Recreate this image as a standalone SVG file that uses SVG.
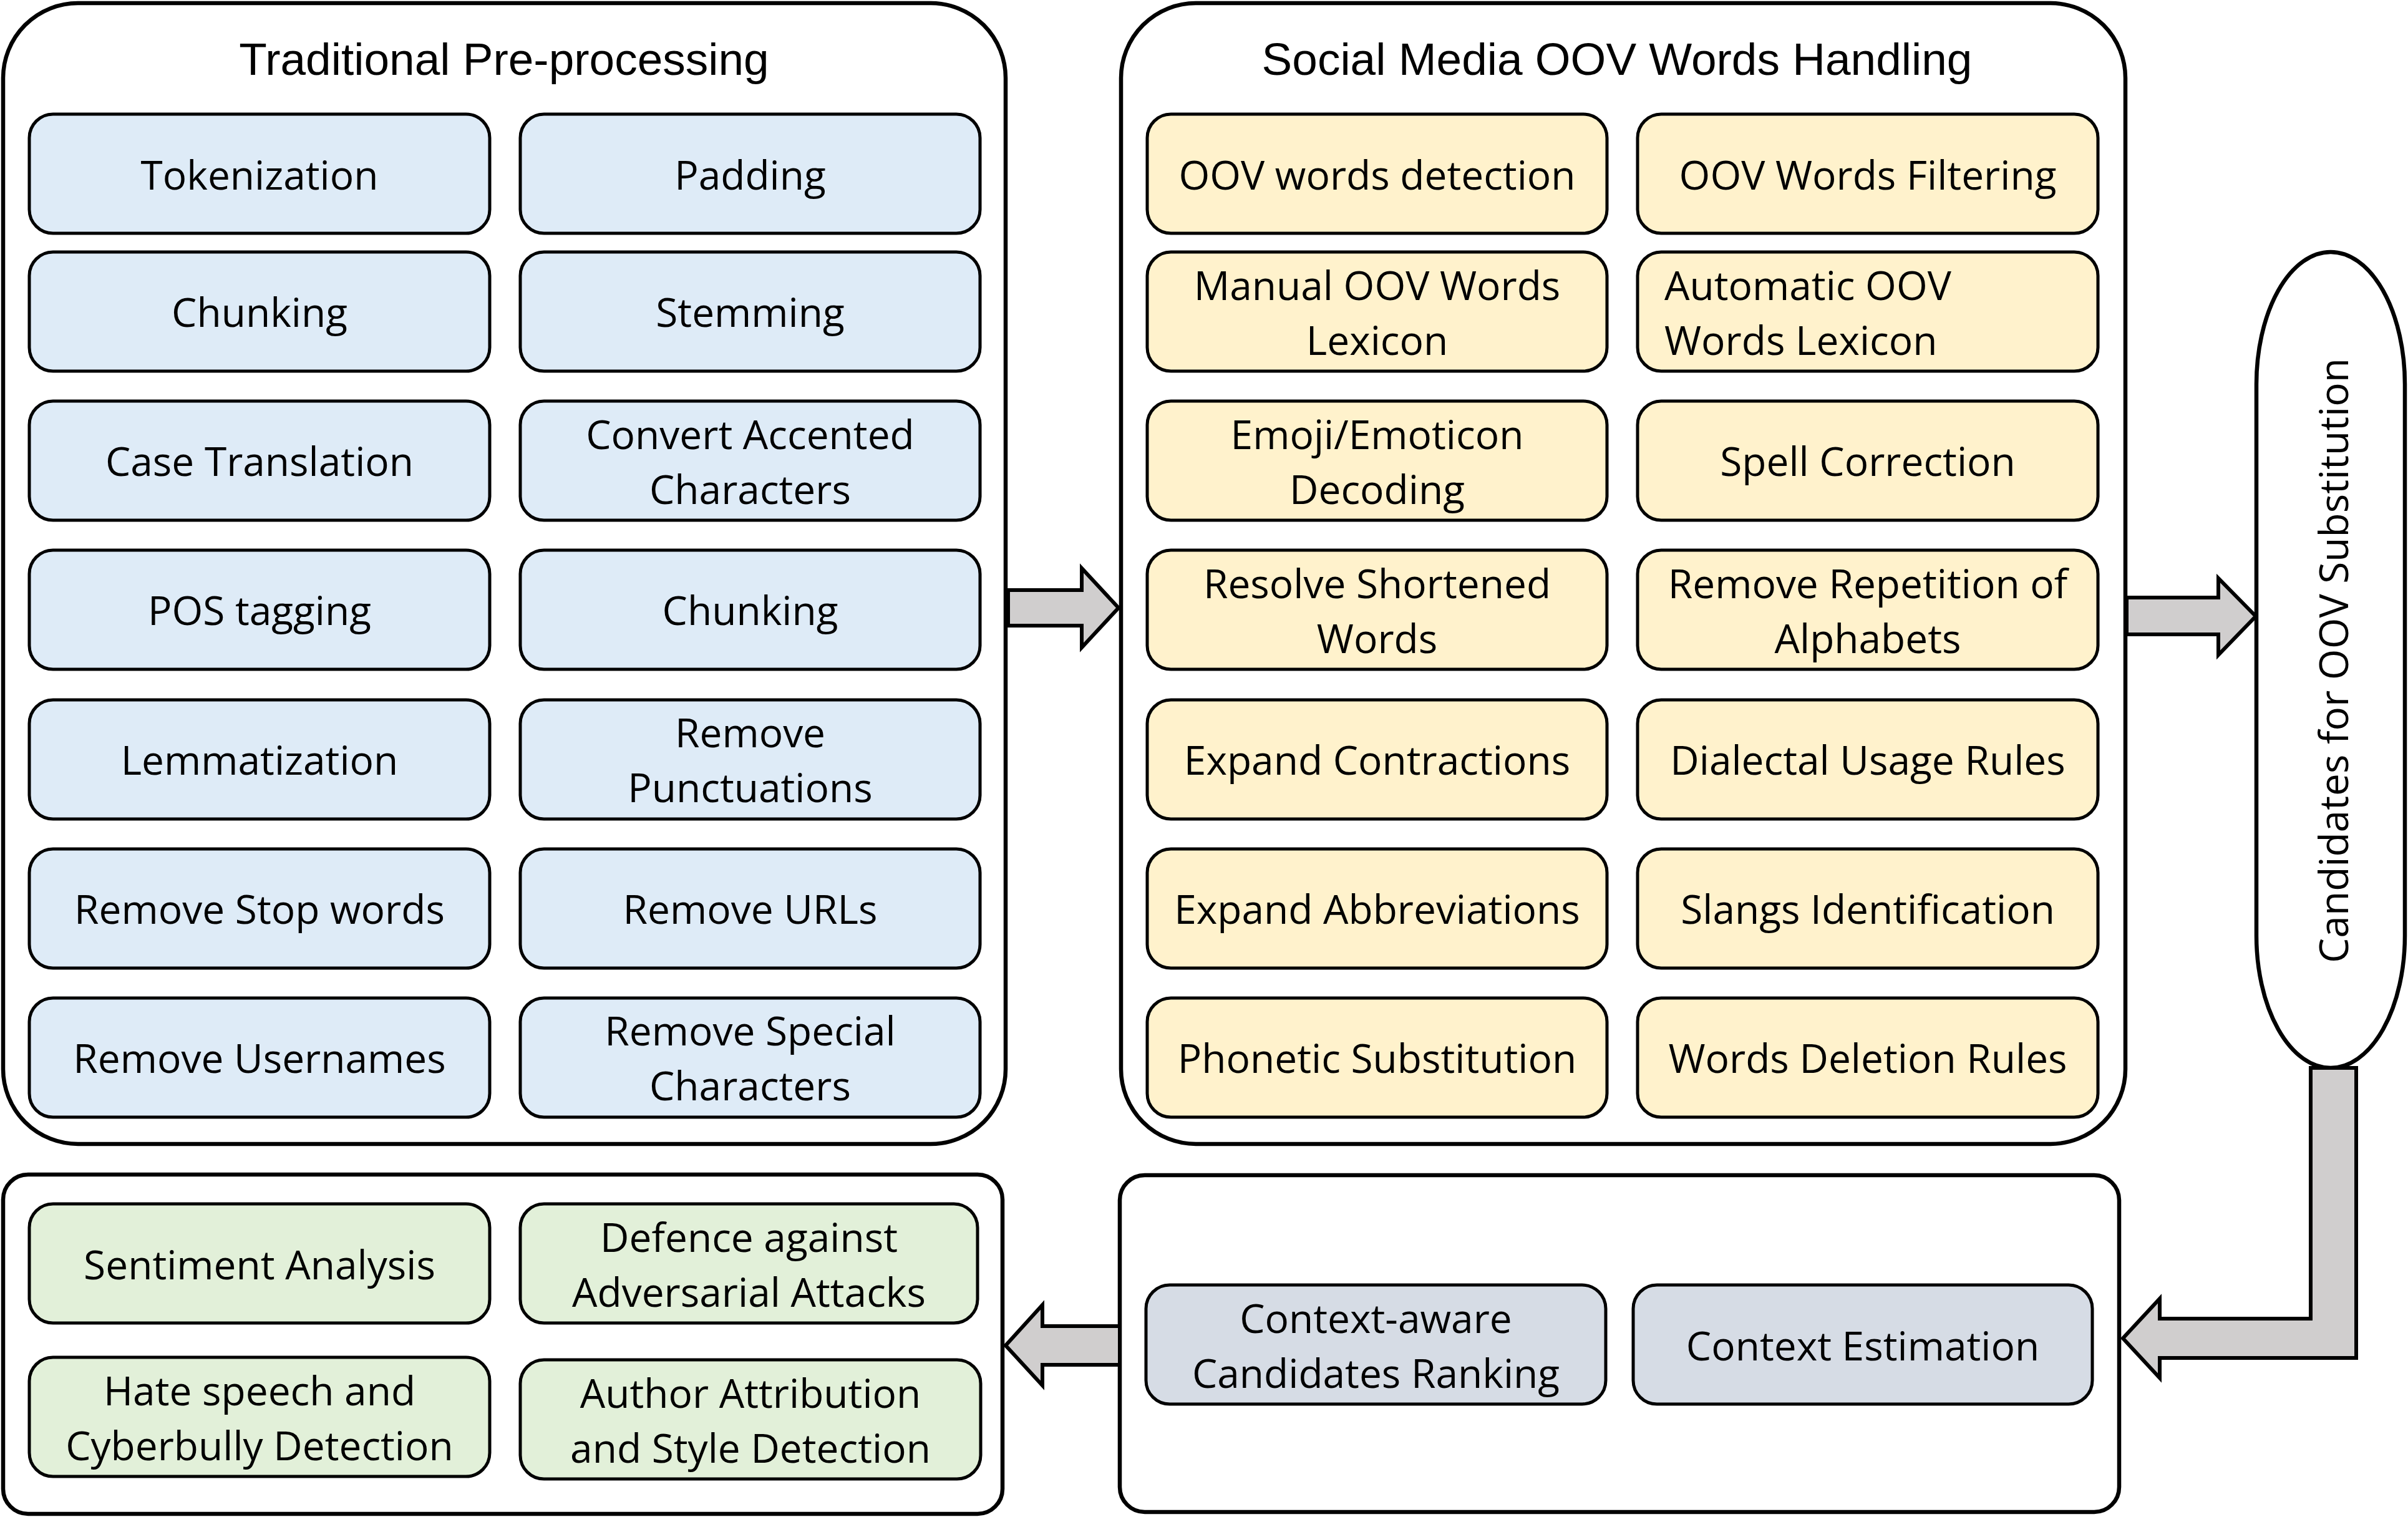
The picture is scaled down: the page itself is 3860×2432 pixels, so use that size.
<svg xmlns="http://www.w3.org/2000/svg" width="3860" height="2432" viewBox="0 0 3860 2432">
<defs>
<style>
.big{fill:#ffffff;stroke:#000;stroke-width:6.5}
.b{stroke:#000;stroke-width:5}
.blue{fill:#DEEBF7}
.yel{fill:#FFF2CC}
.grn{fill:#E2F0D9}
.gry{fill:#D6DCE5}
.t{font-family:"Open Sans","DejaVu Sans",sans-serif;font-size:64px;fill:#000;text-anchor:middle}
.ttl{font-family:"Liberation Sans",Arial,sans-serif;font-size:73px;fill:#000;text-anchor:middle}
.arr{fill:#D0CECE;stroke:#000;stroke-width:6;stroke-linejoin:miter}
</style>
</defs>
<rect width="3860" height="2432" fill="#fff"/>

<g id="traditional-preprocessing">
<rect class="big" x="5" y="5" width="1607" height="1829" rx="120" ry="120"/>
<text class="ttl" x="808" y="120">Traditional Pre-processing</text>
</g>
<g id="tokenization"><rect class="b blue" x="47" y="183" width="738" height="191" rx="38"/><text class="t" x="416" y="304">Tokenization</text></g>
<g id="padding"><rect class="b blue" x="834" y="183" width="737" height="191" rx="38"/><text class="t" x="1202.5" y="304">Padding</text></g>
<g id="chunking-1"><rect class="b blue" x="47" y="404" width="738" height="191" rx="38"/><text class="t" x="416" y="524">Chunking</text></g>
<g id="stemming"><rect class="b blue" x="834" y="404" width="737" height="191" rx="38"/><text class="t" x="1202.5" y="524">Stemming</text></g>
<g id="case-translation"><rect class="b blue" x="47" y="643" width="738" height="191" rx="38"/><text class="t" x="416" y="763">Case Translation</text></g>
<g id="convert-accented"><rect class="b blue" x="834" y="643" width="737" height="191" rx="38"/><text class="t" x="1202.5" y="720">Convert Accented</text><text class="t" x="1202.5" y="808">Characters</text></g>
<g id="pos-tagging"><rect class="b blue" x="47" y="882" width="738" height="191" rx="38"/><text class="t" x="416" y="1002">POS tagging</text></g>
<g id="chunking-2"><rect class="b blue" x="834" y="882" width="737" height="191" rx="38"/><text class="t" x="1202.5" y="1002">Chunking</text></g>
<g id="lemmatization"><rect class="b blue" x="47" y="1122" width="738" height="191" rx="38"/><text class="t" x="416" y="1242">Lemmatization</text></g>
<g id="remove-punctuations"><rect class="b blue" x="834" y="1122" width="737" height="191" rx="38"/><text class="t" x="1202.5" y="1198">Remove</text><text class="t" x="1202.5" y="1286">Punctuations</text></g>
<g id="remove-stop-words"><rect class="b blue" x="47" y="1361" width="738" height="191" rx="38"/><text class="t" x="416" y="1481">Remove Stop words</text></g>
<g id="remove-urls"><rect class="b blue" x="834" y="1361" width="737" height="191" rx="38"/><text class="t" x="1202.5" y="1481">Remove URLs</text></g>
<g id="remove-usernames"><rect class="b blue" x="47" y="1600" width="738" height="191" rx="38"/><text class="t" x="416" y="1720">Remove Usernames</text></g>
<g id="remove-special"><rect class="b blue" x="834" y="1600" width="737" height="191" rx="38"/><text class="t" x="1202.5" y="1676">Remove Special</text><text class="t" x="1202.5" y="1764">Characters</text></g>

<g id="oov-handling">
<rect class="big" x="1797" y="5" width="1610" height="1829" rx="120" ry="120"/>
<text class="ttl" x="2592" y="120">Social Media OOV Words Handling</text>
</g>
<g id="oov-detection"><rect class="b yel" x="1839" y="183" width="737" height="191" rx="38"/><text class="t" x="2207.5" y="304">OOV words detection</text></g>
<g id="oov-filtering"><rect class="b yel" x="2625" y="183" width="738" height="191" rx="38"/><text class="t" x="2994" y="304">OOV Words Filtering</text></g>
<g id="manual-lexicon"><rect class="b yel" x="1839" y="404" width="737" height="191" rx="38"/><text class="t" x="2207.5" y="481">Manual OOV Words</text><text class="t" x="2207.5" y="569">Lexicon</text></g>
<g id="automatic-lexicon"><rect class="b yel" x="2625" y="404" width="738" height="191" rx="38"/><text class="t" x="2668" y="481" style="text-anchor:start">Automatic OOV</text><text class="t" x="2668" y="569" style="text-anchor:start">Words Lexicon</text></g>
<g id="emoji-decoding"><rect class="b yel" x="1839" y="643" width="737" height="191" rx="38"/><text class="t" x="2207.5" y="720">Emoji/Emoticon</text><text class="t" x="2207.5" y="808">Decoding</text></g>
<g id="spell-correction"><rect class="b yel" x="2625" y="643" width="738" height="191" rx="38"/><text class="t" x="2994" y="763">Spell Correction</text></g>
<g id="resolve-shortened"><rect class="b yel" x="1839" y="882" width="737" height="191" rx="38"/><text class="t" x="2207.5" y="959">Resolve Shortened</text><text class="t" x="2207.5" y="1047">Words</text></g>
<g id="remove-repetition"><rect class="b yel" x="2625" y="882" width="738" height="191" rx="38"/><text class="t" x="2994" y="959">Remove Repetition of</text><text class="t" x="2994" y="1047">Alphabets</text></g>
<g id="expand-contractions"><rect class="b yel" x="1839" y="1122" width="737" height="191" rx="38"/><text class="t" x="2207.5" y="1242">Expand Contractions</text></g>
<g id="dialectal-rules"><rect class="b yel" x="2625" y="1122" width="738" height="191" rx="38"/><text class="t" x="2994" y="1242">Dialectal Usage Rules</text></g>
<g id="expand-abbreviations"><rect class="b yel" x="1839" y="1361" width="737" height="191" rx="38"/><text class="t" x="2207.5" y="1481">Expand Abbreviations</text></g>
<g id="slangs-identification"><rect class="b yel" x="2625" y="1361" width="738" height="191" rx="38"/><text class="t" x="2994" y="1481">Slangs Identification</text></g>
<g id="phonetic-substitution"><rect class="b yel" x="1839" y="1600" width="737" height="191" rx="38"/><text class="t" x="2207.5" y="1720">Phonetic Substitution</text></g>
<g id="words-deletion"><rect class="b yel" x="2625" y="1600" width="738" height="191" rx="38"/><text class="t" x="2994" y="1720">Words Deletion Rules</text></g>

<g id="candidates">
<rect class="big" x="3617" y="404" width="238" height="1308" rx="119" ry="212"/>
<text class="t" transform="translate(3764,1059) rotate(-90)">Candidates for OOV Substitution</text>
</g>

<g id="applications">
<rect class="big" x="5" y="1883" width="1602" height="544" rx="40"/>
</g>
<g id="sentiment-analysis"><rect class="b grn" x="47" y="1930" width="738" height="191" rx="38"/><text class="t" x="416" y="2051">Sentiment Analysis</text></g>
<g id="defence-adversarial"><rect class="b grn" x="834" y="1930" width="733" height="191" rx="38"/><text class="t" x="1200.5" y="2007">Defence against</text><text class="t" x="1200.5" y="2095">Adversarial Attacks</text></g>
<g id="hate-speech"><rect class="b grn" x="47" y="2176" width="738" height="191" rx="38"/><text class="t" x="416" y="2253">Hate speech and</text><text class="t" x="416" y="2341">Cyberbully Detection</text></g>
<g id="author-attribution"><rect class="b grn" x="834" y="2180" width="738" height="191" rx="38"/><text class="t" x="1203" y="2257">Author Attribution</text><text class="t" x="1203" y="2345">and Style Detection</text></g>

<g id="context-module">
<rect class="big" x="1795" y="1884" width="1602" height="540" rx="40"/>
</g>
<g id="context-ranking"><rect class="b gry" x="1837" y="2060" width="737" height="191" rx="38"/><text class="t" x="2205.5" y="2137">Context-aware</text><text class="t" x="2205.5" y="2225">Candidates Ranking</text></g>
<g id="context-estimation"><rect class="b gry" x="2618" y="2060" width="736" height="191" rx="38"/><text class="t" x="2986" y="2181">Context Estimation</text></g>

<g id="connectors">
<polygon class="arr" points="1616,946 1734,946 1734,911 1793,974.5 1734,1038 1734,1003 1616,1003"/>
<polygon class="arr" points="3409,958 3556,958 3556,927 3616,988 3556,1050 3556,1017 3409,1017"/>
<polygon class="arr" points="3704,1712 3777,1712 3777,2177 3462,2177 3462,2209 3403,2145.5 3462,2082 3462,2114 3704,2114"/>
<polygon class="arr" points="1795,2126 1671,2126 1671,2092 1612,2157 1671,2221 1671,2188 1795,2188"/>
</g>
</svg>
